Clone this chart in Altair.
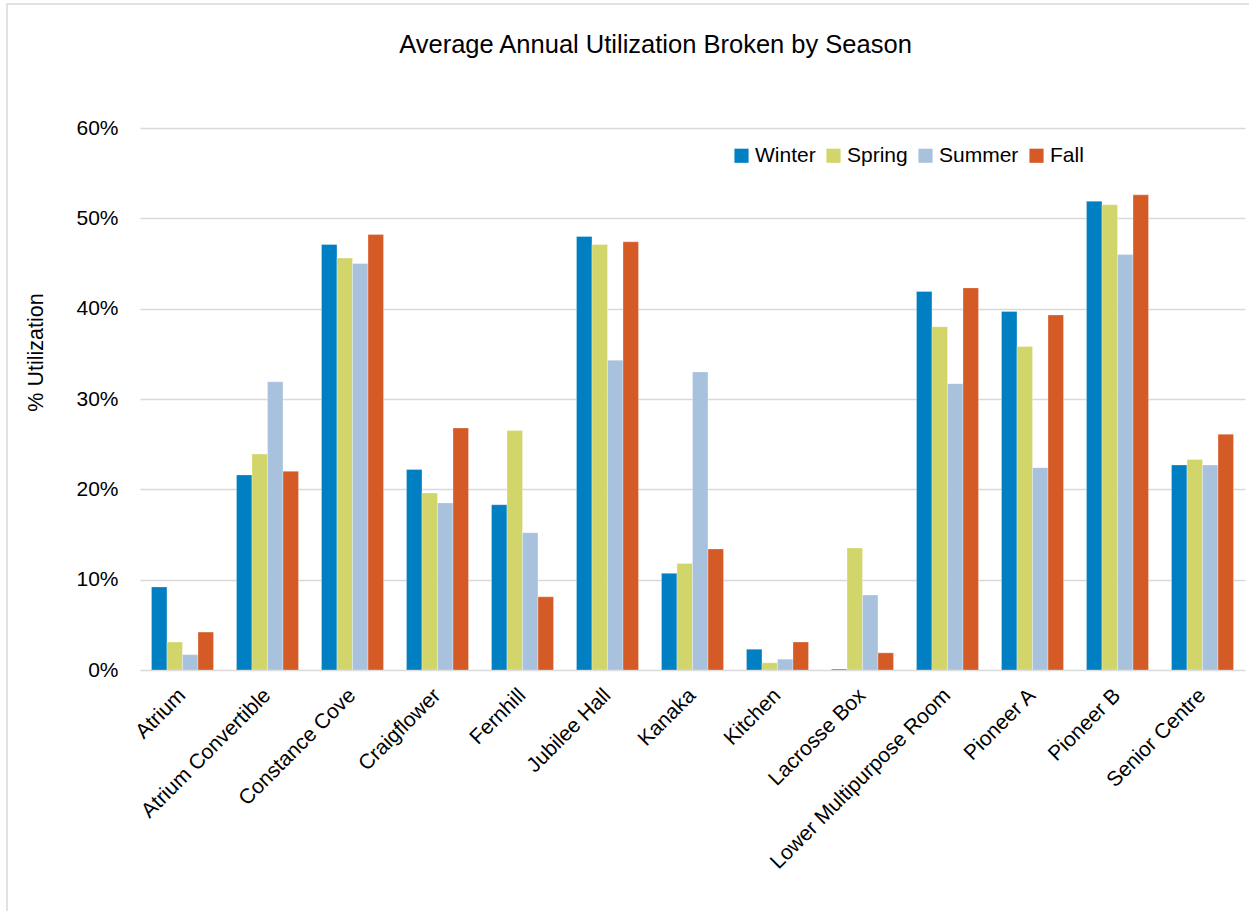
import altair as alt
import pandas as pd

rooms = [
    "Atrium", "Atrium Convertible", "Constance Cove", "Craigflower", "Fernhill",
    "Jubilee Hall", "Kanaka", "Kitchen", "Lacrosse Box",
    "Lower Multipurpose Room", "Pioneer A", "Pioneer B", "Senior Centre",
]
seasons = ["Winter", "Spring", "Summer", "Fall"]
season_colors = ["#0080C2", "#D2D56A", "#A8C2DD", "#D45A26"]

winter = [9.2, 21.6, 47.1, 22.2, 18.3, 48.0, 10.7, 2.3, 0.1, 41.9, 39.7, 51.9, 22.7]
spring = [3.1, 23.9, 45.6, 19.6, 26.5, 47.1, 11.8, 0.8, 13.5, 38.0, 35.8, 51.5, 23.3]
summer = [1.7, 31.9, 45.0, 18.5, 15.2, 34.3, 33.0, 1.2, 8.3, 31.7, 22.4, 46.0, 22.7]
fall = [4.2, 22.0, 48.2, 26.8, 8.1, 47.4, 13.4, 3.1, 1.9, 42.3, 39.3, 52.6, 26.1]

rows = []
for season, values in zip(seasons, [winter, spring, summer, fall]):
    for room, v in zip(rooms, values):
        rows.append({"Room": room, "Season": season, "Utilization": v / 100})
df = pd.DataFrame(rows)

FONT = "Liberation Sans"

bars = alt.Chart(df).mark_bar(stroke="white", strokeWidth=0.5, strokeOpacity=0.6).encode(
    x=alt.X(
        "Room:N",
        sort=rooms,
        scale=alt.Scale(paddingInner=0.27, paddingOuter=0.135),
        axis=alt.Axis(
            title=None,
            labelAngle=-45,
            labelAlign="right",
            labelBaseline="middle",
            labelPadding=22,
            labelFontSize=21,
            labelFont=FONT,
            labelColor="#000000",
            labelLimit=0,
            ticks=False,
            domain=False,
            grid=False,
        ),
    ),
    xOffset=alt.XOffset("Season:N", sort=seasons, scale=alt.Scale(paddingInner=0, paddingOuter=0)),
    y=alt.Y(
        "Utilization:Q",
        scale=alt.Scale(domain=[0, 0.6], nice=False),
        axis=alt.Axis(
            title="% Utilization",
            format=".0%",
            values=[0, 0.1, 0.2, 0.3, 0.4, 0.5, 0.6],
            labelFontSize=21,
            labelFont=FONT,
            labelColor="#000000",
            labelPadding=22,
            ticks=False,
            domain=False,
            gridColor="#D9D9D9",
            gridWidth=1.3,
            titleFont=FONT,
            titleFontSize=21.5,
            titleFontWeight="normal",
            titleColor="#000000",
            titleAngle=-90,
            titleAlign="center",
            titleBaseline="middle",
            titleX=-104,
            titleY=224,
        ),
    ),
    color=alt.Color(
        "Season:N",
        sort=seasons,
        scale=alt.Scale(domain=seasons, range=season_colors),
        legend=alt.Legend(
            title=None,
            orient="none",
            legendX=591,
            legendY=17,
            direction="horizontal",
            symbolType="square",
            symbolSize=200,
            symbolStrokeWidth=0,
            symbolOpacity=1,
            labelFont=FONT,
            labelFontSize=21,
            labelColor="#000000",
            labelOffset=3,
            columnPadding=7,
        ),
    ),
)

frame = alt.Chart(pd.DataFrame({"k": [0]})).mark_rect(
    fill=None, stroke="#D9D9D9", strokeWidth=1.5
).encode(
    x=alt.value(-133),
    x2=alt.value(1300),
    y=alt.value(-124),
    y2=alt.value(900),
)

chart = alt.layer(frame, bars).properties(
    width=1105,
    height=542,
    padding={"left": 140, "top": 128, "right": 4, "bottom": 241},
    autosize=alt.AutoSizeParams(type="none"),
    title=alt.TitleParams(
        "Average Annual Utilization Broken by Season",
        font=FONT,
        fontSize=25.5,
        fontWeight="normal",
        color="#000000",
        anchor="middle",
        baseline="bottom",
        dx=-37,
        offset=-80,
    ),
).configure(background="white").configure_view(stroke=None)

chart.save("out.html", embed_options={"renderer": "svg", "actions": False})
